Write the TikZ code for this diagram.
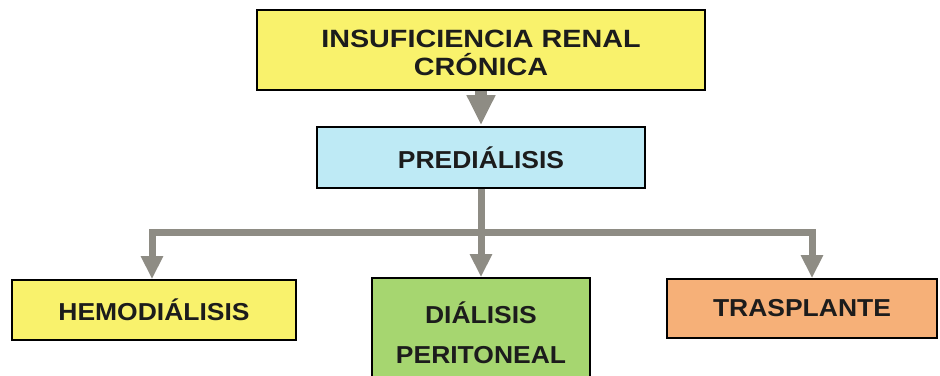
\documentclass[tikz,border=0pt]{standalone}
\usepackage{fontspec}
\setmainfont{Liberation Sans}
\usetikzlibrary{arrows.meta}
\definecolor{yel}{RGB}{249,242,108}
\definecolor{cya}{RGB}{190,234,245}
\definecolor{grn}{RGB}{166,214,112}
\definecolor{org}{RGB}{246,176,120}
\definecolor{arr}{RGB}{142,140,132}
\definecolor{txt}{RGB}{28,28,28}
\tikzset{
  box/.style={draw=black, line width=1.8pt, inner sep=0pt, text=txt, align=center,
    font=\fontsize{24.5}{40}\selectfont\bfseries\addfontfeature{FakeStretch=1.08}},
  bigarrow/.style={draw=arr, line width=12pt, -{Triangle[width=27pt,length=30pt]}},
  branch/.style={draw=arr, line width=7pt, line join=miter, -{Triangle[width=21pt,length=23pt]}}
}
\begin{document}
\begin{tikzpicture}[x=1pt,y=-1pt]
\useasboundingbox (0,0) rectangle (940,375);
\clip (0,0) rectangle (940,375);
\fill[white] (0,0) rectangle (940,375);
\node[box, fill=yel, minimum width=448pt, minimum height=80pt,
  font=\fontsize{25}{28}\selectfont\bfseries\addfontfeature{FakeStretch=1.15}]
  (top) at (481,50) {\rule{0pt}{24pt}INSUFICIENCIA RENAL\\CRÓNICA};
\node[box, fill=cya, minimum width=328pt, minimum height=61pt] (pred) at (481,157.5) {PREDIÁLISIS};
\node[box, fill=yel, minimum width=284pt, minimum height=60pt] (hemo) at (154,310) {HEMODIÁLISIS};
\node[box, fill=grn, minimum width=218pt, minimum height=110pt] (dial) at (481,333) {DIÁLISIS\\PERITONEAL};
\node[box, fill=org, minimum width=270pt, minimum height=59pt] (tras) at (802,308.5) {TRASPLANTE};
\coordinate (j) at (481,232);
\draw[bigarrow, shorten >=1pt] (top.south) -- (pred.north);
\draw[branch, -] (pred.south) -- (j);
\draw[branch] (j) -| ([xshift=-2pt]hemo.north);
\draw[branch] (j) -| ([xshift=10pt]tras.north);
\draw[branch] (j) -- (dial.north);
\end{tikzpicture}
\end{document}
